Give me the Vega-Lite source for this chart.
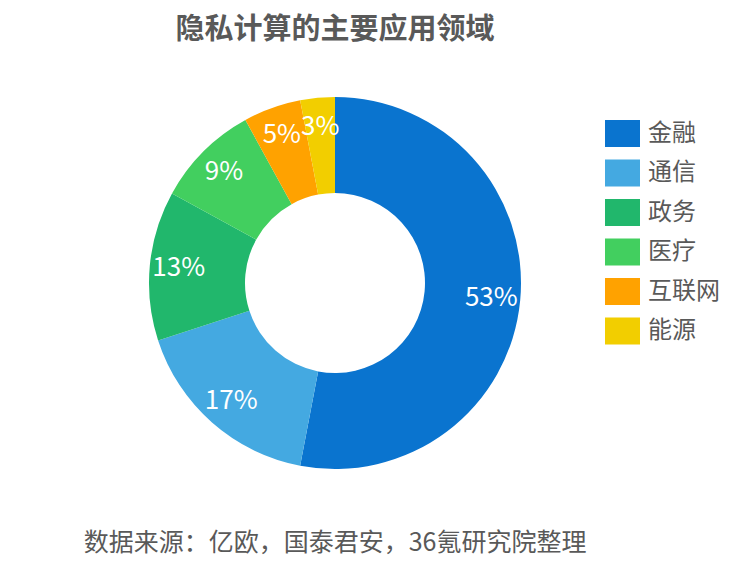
{
  "$schema": "https://vega.github.io/schema/vega-lite/v6.json",
  "padding": {"left": 0, "top": 16, "right": 0, "bottom": 10},
  "background": "white",
  "title": {"text": "隐私计算的主要应用领域", "fontSize": 29, "fontWeight": "bold", "color": "#595959", "font": "Noto Sans CJK SC", "anchor": "middle", "dx": -25, "offset": 38},
  "config": {"view": {"stroke": null}, "font": "Noto Sans CJK SC"},
  "datasets": {
    "share": [
      {"领域": "金融", "占比": 53, "序号": 1, "标签": "53%"},
      {"领域": "通信", "占比": 17, "序号": 2, "标签": "17%"},
      {"领域": "政务", "占比": 13, "序号": 3, "标签": "13%"},
      {"领域": "医疗", "占比": 9, "序号": 4, "标签": "9%"},
      {"领域": "互联网", "占比": 5, "序号": 5, "标签": "5%"},
      {"领域": "能源", "占比": 3, "序号": 6, "标签": "3%"}
    ]
  },
  "vconcat": [
    {
      "width": 670,
      "height": 400,
      "title": {"text": "数据来源：亿欧，国泰君安，36氪研究院整理", "orient": "bottom", "fontSize": 25, "fontWeight": "normal", "color": "#595959", "font": "Noto Sans CJK SC", "anchor": "middle", "offset": 48},
      "data": {"name": "share"},
      "encoding": {
        "theta": {"field": "占比", "type": "quantitative", "stack": true},
        "order": {"field": "序号", "type": "quantitative", "sort": "ascending"}
      },
      "layer": [
        {
          "mark": {"type": "arc", "outerRadius": 186, "innerRadius": 90},
          "encoding": {
            "color": {
              "field": "领域", "type": "nominal",
              "scale": {"domain": ["金融", "通信", "政务", "医疗", "互联网", "能源"], "range": ["#0A74CF", "#44A9E1", "#21B76C", "#42CF5F", "#FFA200", "#F2CE00"]},
              "legend": {"title": null, "orient": "none", "legendX": 605, "legendY": 33, "labelFontSize": 24, "labelColor": "#595959", "labelFont": "Noto Sans CJK SC", "symbolType": "M-1,-0.77H1V0.77H-1Z", "symbolSize": 1225, "symbolStrokeWidth": 0, "symbolOpacity": 1, "labelOffset": 8, "rowPadding": 8.5}
            }
          }
        },
        {
          "mark": {"type": "text", "radius": 157, "fontSize": 26, "color": "white", "font": "Noto Sans CJK SC"},
          "encoding": {"text": {"field": "标签", "type": "nominal"}}
        }
      ]
    }
  ]
}
